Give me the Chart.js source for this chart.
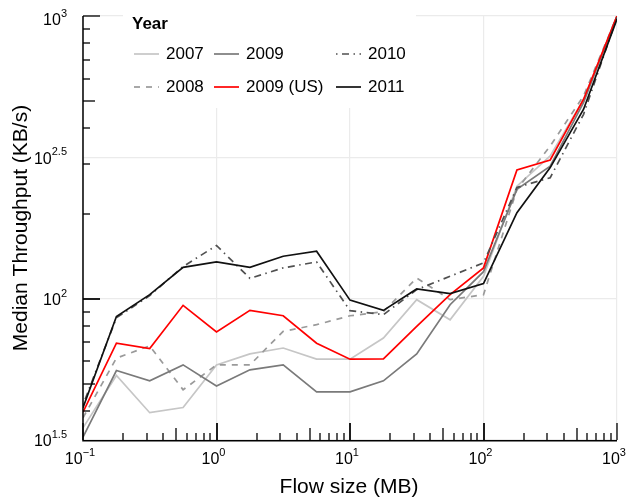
<!DOCTYPE html>
<html>
<head>
<meta charset="utf-8">
<script src="https://cdn.jsdelivr.net/npm/chart.js@4"></script>
<style>
  html, body { margin: 0; padding: 0; background: #fff; }
  #wrap { width: 633px; height: 499px; position: relative; }
</style>
</head>
<body>
<div id="wrap"><canvas id="chart"></canvas></div>
<script>
// flow sizes (MB), quarter-decade steps
let sizes = [0.1, 0.178, 0.316, 0.562, 1, 1.78, 3.16, 5.62, 10, 17.8, 31.6, 56.2, 100, 178, 316, 562, 1000]

// median throughput (KB/s) per year
let y2007 = [34.9, 53.5, 39.5, 41.2, 58.3, 63.8, 66.9, 61.1, 61.1, 72.6, 99.2, 84.2, 120, 250, 320, 507, 1000]
let y2008 = [37.9, 61.6, 68.1, 47.6, 58.3, 58.3, 76.6, 80.9, 87.0, 89.9, 118.4, 99.2, 103.3, 243.5, 346.8, 521.7, 1000]
let y2009 = [32.4, 55.7, 51.2, 58.3, 49.1, 56.0, 58.3, 46.8, 46.8, 51.2, 63.7, 95.2, 124.6, 243.5, 294.5, 494.4, 1000]
let y2009us = [39.7, 69.6, 66.6, 94.7, 76.2, 90.9, 87.0, 69.6, 61.1, 61.2, 79.8, 103.3, 128.5, 285.1, 309.4, 507.6, 1000]
let y2010 = [42.1, 85.6, 102.5, 129.9, 154.2, 118.0, 128.5, 134.9, 90.7, 87.8, 107.6, 120.0, 133.8, 247.5, 267.9, 449, 990]
let y2011 = [41.1, 86.5, 103.3, 129.1, 134.9, 129.1, 141.3, 147.2, 98.8, 90.9, 108.2, 104.2, 113.0, 201.4, 290.8, 468, 976]

let xTicks = [0.1, 1, 10, 100, 1000]
let xTickExp = ['\u22121', '0', '1', '2', '3']
let yTicks = [Math.pow(10, 1.5), 100, Math.pow(10, 2.5), 1000]
let yTickExp = ['1.5', '2', '2.5', '3']

let FONT = '"Liberation Sans", Arial, sans-serif'

function series(label, arr, color, dash, order) {
    return {
        label: label,
        data: sizes.map(function(x, i) { return {x: x, y: arr[i]} }),
        borderColor: color,
        borderWidth: 1.7,
        borderDash: dash,
        pointRadius: 0,
        tension: 0,
        fill: false,
        order: order
    }
}

let datasets = [
    series('2007', y2007, '#c6c6c6', [], 6),
    series('2008', y2008, '#9a9a9a', [6, 6], 5),
    series('2009', y2009, '#7a7a7a', [], 4),
    series('2009 (US)', y2009us, '#ff0000', [], 3),
    series('2010', y2010, '#505050', [1.5, 4.5, 7, 4.5], 2),
    series('2011', y2011, '#111111', [], 1)
]

// legend columns: ggplot fills column-wise
let legendCols = [[0, 1], [2, 3], [4, 5]]
let legendColX = [134, 214, 336]

function drawPow(ctx, exp, x, y, align) {
    ctx.font = '16px ' + FONT
    let wb = ctx.measureText('10').width
    ctx.font = '11px ' + FONT
    let we = ctx.measureText(exp).width
    let start = align === 'right' ? x - wb - we : x - (wb + we) / 2
    ctx.textAlign = 'left'
    ctx.textBaseline = 'middle'
    ctx.font = '16px ' + FONT
    ctx.fillText('10', start, y)
    ctx.font = '11px ' + FONT
    ctx.fillText(exp, start + wb, y - 7)
}

let decor = {
    id: 'decor',
    beforeDatasetsDraw: function(chart) {
        let ctx = chart.ctx
        ctx.save()
        // legend box (covers grid)
        ctx.fillStyle = '#fff'
        ctx.fillRect(123, 0, 293, 108)
        ctx.fillStyle = '#000'
        ctx.font = 'bold 17px ' + FONT
        ctx.textAlign = 'left'
        ctx.textBaseline = 'alphabetic'
        ctx.fillText('Year', 132, 29)
        let rowsY = [54, 87]
        for (let c = 0; c < legendCols.length; c++) {
            for (let r = 0; r < legendCols[c].length; r++) {
                let ds = chart.data.datasets[legendCols[c][r]]
                let lx = legendColX[c], ly = rowsY[r]
                ctx.strokeStyle = ds.borderColor
                ctx.lineWidth = ds.borderWidth
                ctx.setLineDash(ds.borderDash)
                ctx.beginPath()
                ctx.moveTo(lx, ly)
                ctx.lineTo(lx + 25, ly)
                ctx.stroke()
                ctx.setLineDash([])
                ctx.fillStyle = '#000'
                ctx.font = '17px ' + FONT
                ctx.textBaseline = 'middle'
                ctx.fillText(ds.label, lx + 32, ly)
            }
        }
        ctx.restore()
    },
    afterDatasetsDraw: function(chart) {
        let ctx = chart.ctx
        let xs = chart.scales.x, ys = chart.scales.y
        let a = chart.chartArea
        ctx.save()
        ctx.strokeStyle = '#000'
        ctx.lineWidth = 1.5
        ctx.beginPath()
        ctx.moveTo(a.left, a.top)
        ctx.lineTo(a.left, a.bottom + 0.75)
        ctx.lineTo(a.right, a.bottom + 0.75)
        ctx.stroke()
        ctx.lineWidth = 1.3
        // x ticks (inward)
        for (let d = 0.1; d < 1000; d *= 10) {
            for (let m = 1; m <= 10; m++) {
                let v = d * m
                if (v > 1000.001) break
                let px = Math.round(xs.getPixelForValue(v))
                let len = (m === 1 || m === 10) ? 17 : (m === 5 ? 12 : 7)
                ctx.beginPath()
                ctx.moveTo(px, a.bottom)
                ctx.lineTo(px, a.bottom - len)
                ctx.stroke()
            }
        }
        // y ticks (inward)
        let ymin = Math.pow(10, 1.5)
        for (let d = 10; d < 1000; d *= 10) {
            for (let m = 1; m <= 10; m++) {
                let v = d * m
                if (v < ymin - 0.001 || v > 1000.001) continue
                let py = Math.round(ys.getPixelForValue(v))
                let len = (m === 1 || m === 10) ? 17 : (m === 5 ? 12 : 7)
                ctx.beginPath()
                ctx.moveTo(a.left, py)
                ctx.lineTo(a.left + len, py)
                ctx.stroke()
            }
        }
        // tick labels
        ctx.fillStyle = '#000'
        for (let i = 0; i < xTicks.length; i++) {
            drawPow(ctx, xTickExp[i], xs.getPixelForValue(xTicks[i]) - 3, 460, 'center')
        }
        for (let i = 0; i < yTicks.length; i++) {
            let py = ys.getPixelForValue(yTicks[i]) + 2
            if (i === yTicks.length - 1) py += 3
            drawPow(ctx, yTickExp[i], 67, py, 'right')
        }
        // axis titles
        ctx.font = '21px ' + FONT
        ctx.textAlign = 'center'
        ctx.textBaseline = 'middle'
        ctx.fillText('Flow size (MB)', 349, 487)
        ctx.translate(21, 228)
        ctx.rotate(-Math.PI / 2)
        ctx.fillText('Median Throughput (KB/s)', 0, 0)
        ctx.restore()
    }
}

new Chart(document.getElementById('chart'), {
    type: 'line',
    data: { datasets: datasets },
    options: {
        responsive: true,
        maintainAspectRatio: false,
        animation: false,
        layout: { padding: { left: 83, right: 16, top: 16, bottom: 59 } },
        plugins: { legend: { display: false }, tooltip: { enabled: false } },
        scales: {
            x: {
                type: 'logarithmic',
                min: 0.1,
                max: 1000,
                afterBuildTicks: function(scale) {
                    scale.ticks = xTicks.map(function(v) { return {value: v} })
                },
                ticks: { display: false },
                border: { display: false },
                grid: { color: '#ebebeb', lineWidth: 1.2, drawTicks: false }
            },
            y: {
                type: 'logarithmic',
                min: Math.pow(10, 1.5),
                max: 1000,
                afterBuildTicks: function(scale) {
                    scale.ticks = yTicks.map(function(v) { return {value: v} })
                },
                ticks: { display: false },
                border: { display: false },
                grid: { color: '#ebebeb', lineWidth: 1.2, drawTicks: false }
            }
        }
    },
    plugins: [decor]
})
</script>
</body>
</html>
